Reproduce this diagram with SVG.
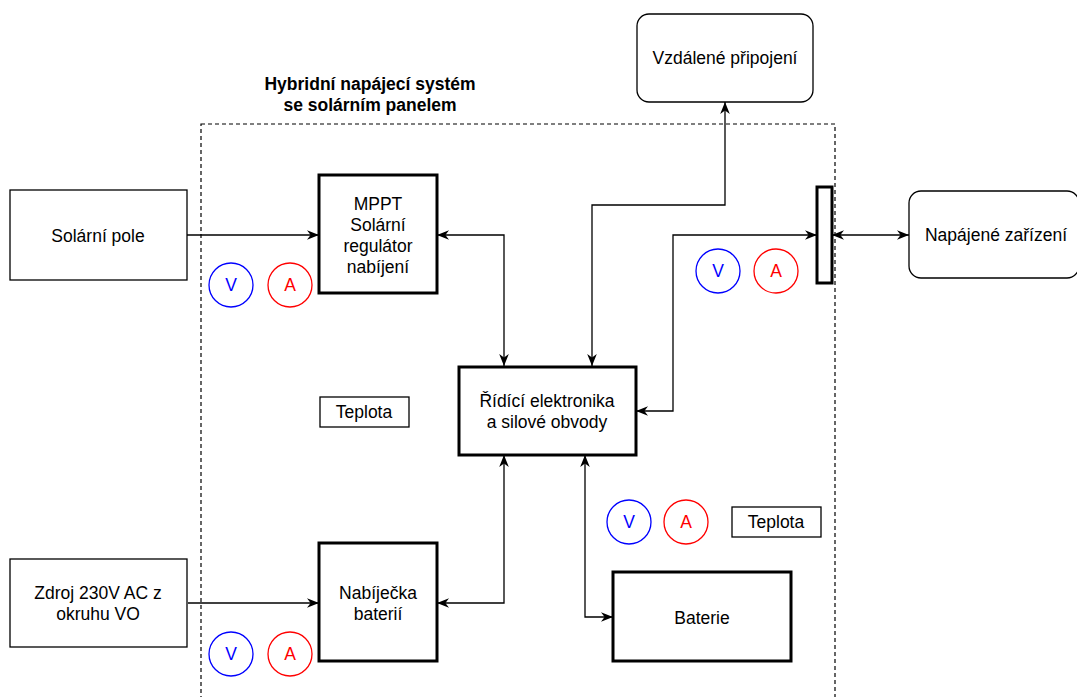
<svg xmlns="http://www.w3.org/2000/svg" width="1077" height="697" viewBox="0 0 1077 697">
<style>
text{font-family:"Liberation Sans",Arial,sans-serif;font-size:17.5px;fill:#000;text-anchor:middle;dominant-baseline:central}
.box{fill:#fff;stroke:#000;stroke-width:1.3}
.thick{fill:#fff;stroke:#000;stroke-width:3}
.conn{fill:none;stroke:#000;stroke-width:1.3;marker-end:url(#arr)}
.both{marker-start:url(#arr)}
.cv{fill:#fff;stroke:#0000ff;stroke-width:1.3}
.ca{fill:#fff;stroke:#ff0000;stroke-width:1.3}
.tv{fill:#0000ff}
.ta{fill:#ff0000}
.title{font-weight:bold}
</style>
<defs>
<marker id="arr" viewBox="0 0 10 10" refX="10" refY="5" markerWidth="12" markerHeight="12" markerUnits="userSpaceOnUse" orient="auto-start-reverse">
<path d="M0,1 L10,5 L0,9 L3,5 z" fill="#000"/>
</marker>
</defs>
<rect width="1077" height="697" fill="#fff"/>
<g id="frame">
<rect x="201" y="124" width="634" height="620" fill="none" stroke="#000" stroke-width="1.2" stroke-dasharray="4,3"/>
<text class="title" x="370" y="84">Hybridní napájecí systém</text>
<text class="title" x="370" y="105">se solárním panelem</text>
</g>
<g id="connectors">
<path class="conn" d="M187,235 L319,235"/>
<path class="conn both" d="M437,235 L504,235 L504,366"/>
<path class="conn both" d="M592,366 L592,205 L725,205 L725,102"/>
<path class="conn both" d="M636,411 L673,411 L673,235 L817,235"/>
<path class="conn both" d="M832,235 L909,235"/>
<path class="conn both" d="M504,455 L504,603 L437,603"/>
<path class="conn both" d="M585,455 L585,617 L613,617"/>
<path class="conn" d="M188,603 L319,603"/>
</g>
<g id="solarni-pole"><rect class="box" x="10" y="190" width="177" height="90"/><text x="98" y="236">Solární pole</text></g>
<g id="mppt"><rect class="thick" x="319" y="175" width="118" height="118"/>
<text x="378" y="204">MPPT</text><text x="378" y="225">Solární</text><text x="378" y="246">regulátor</text><text x="378" y="267">nabíjení</text></g>
<g id="ridici"><rect class="thick" x="459" y="367" width="177" height="88"/>
<text x="547" y="401">Řídící elektronika</text><text x="547" y="422">a silové obvody</text></g>
<g id="vzdalene"><rect class="box" x="637" y="14" width="176" height="88" rx="12"/><text x="725" y="58">Vzdálené připojení</text></g>
<g id="napajene"><rect class="box" x="909" y="191" width="170" height="87" rx="12"/><text x="996" y="235">Napájené zařízení</text></g>
<g id="bar"><rect class="thick" x="817" y="187" width="15" height="96"/></g>
<g id="zdroj"><rect class="box" x="10" y="559" width="177" height="88"/><text x="98" y="593">Zdroj 230V AC z</text><text x="98" y="614">okruhu VO</text></g>
<g id="nabijecka"><rect class="thick" x="319" y="543" width="118" height="118"/><text x="378" y="593">Nabíječka</text><text x="378" y="614">baterií</text></g>
<g id="baterie"><rect class="thick" x="613" y="572" width="178" height="89"/><text x="702" y="618">Baterie</text></g>
<g id="teplota1"><rect class="box" x="320" y="397" width="89" height="30"/><text x="364" y="412">Teplota</text></g>
<g id="teplota2"><rect class="box" x="732" y="507" width="89" height="30"/><text x="776" y="522">Teplota</text></g>
<g id="v1"><circle class="cv" cx="231" cy="285" r="22"/><text class="tv" x="231" y="285">V</text></g>
<g id="a1"><circle class="ca" cx="290" cy="285" r="22"/><text class="ta" x="290" y="285">A</text></g>
<g id="v2"><circle class="cv" cx="718" cy="271" r="22"/><text class="tv" x="718" y="271">V</text></g>
<g id="a2"><circle class="ca" cx="776" cy="271" r="22"/><text class="ta" x="776" y="271">A</text></g>
<g id="v3"><circle class="cv" cx="629" cy="522" r="22"/><text class="tv" x="629" y="522">V</text></g>
<g id="a3"><circle class="ca" cx="686" cy="522" r="22"/><text class="ta" x="686" y="522">A</text></g>
<g id="v4"><circle class="cv" cx="231" cy="654" r="22"/><text class="tv" x="231" y="654">V</text></g>
<g id="a4"><circle class="ca" cx="290" cy="654" r="22"/><text class="ta" x="290" y="654">A</text></g>
</svg>
